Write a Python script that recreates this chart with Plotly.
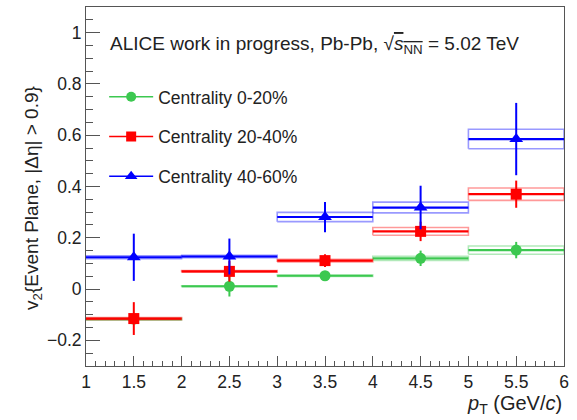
import plotly.graph_objects as go

# pT bins (GeV/c): centres and half-widths
pt = [1.5, 2.5, 3.5, 4.5, 5.5]
half_width = [0.5, 0.5, 0.5, 0.5, 0.5]

# v2{EP, |Δη| > 0.9} per centrality class: value, statistical and systematic uncertainty
v2_0_20 = [-0.117, 0.011, 0.052, 0.120, 0.152]
stat_0_20 = [0.010, 0.040, 0.015, 0.030, 0.032]
sys_0_20 = [0.003, 0.002, 0.003, 0.008, 0.016]

v2_20_40 = [-0.115, 0.069, 0.111, 0.225, 0.370]
stat_20_40 = [0.064, 0.040, 0.025, 0.038, 0.053]
sys_20_40 = [0.004, 0.003, 0.005, 0.015, 0.024]

v2_40_60 = [0.124, 0.127, 0.281, 0.318, 0.585]
stat_40_60 = [0.092, 0.070, 0.059, 0.085, 0.141]
sys_40_60 = [0.006, 0.005, 0.018, 0.021, 0.038]

series = [
    ("Centrality 0-20%", v2_0_20, stat_0_20, sys_0_20, "rgb(60,200,80)", "rgba(60,200,80,0.40)", "circle", 11),
    ("Centrality 20-40%", v2_20_40, stat_20_40, sys_20_40, "rgb(255,0,0)", "rgba(255,0,0,0.40)", "square", 11),
    ("Centrality 40-60%", v2_40_60, stat_40_60, sys_40_60, "rgb(0,0,255)", "rgba(0,0,255,0.40)", "triangle-up", 12),
]

FONT = "Liberation Sans, Arial, Helvetica, sans-serif"
TXT = "#222222"

fig = go.Figure()

for i, (name, vals, stat, sysu, col, boxcol, sym, size) in enumerate(series):
    # systematic-uncertainty boxes (open rectangles spanning the bin)
    bx, by = [], []
    for x, hw, v, s in zip(pt, half_width, vals, sysu):
        bx += [x - hw, x + hw, x + hw, x - hw, x - hw, None]
        by += [v - s, v - s, v + s, v + s, v - s, None]
    fig.add_trace(go.Scatter(
        x=bx, y=by, mode="lines", line=dict(color=boxcol, width=1.6),
        showlegend=False, hoverinfo="skip",
    ))
    # points with bin-width and statistical error bars
    fig.add_trace(go.Scatter(
        x=pt, y=vals, mode="markers", name=name, showlegend=False,
        marker=dict(symbol=sym, size=size, color=col),
        error_x=dict(type="data", array=half_width, color=col, thickness=2.2, width=0),
        error_y=dict(type="data", array=stat, color=col, thickness=2, width=0),
    ))
    # legend entry (marker with line)
    fig.add_trace(go.Scatter(
        x=[None], y=[None], mode="lines+markers", name=name,
        legendgroup=f"g{i}",
        line=dict(color=col, width=1.6),
        marker=dict(symbol=sym, size=size - 1, color=col),
    ))

fig.add_annotation(
    text="ALICE work in progress, Pb-Pb, √<span style='text-decoration:overline'><i>s</i><sub>NN</sub></span> = 5.02 TeV",
    xref="paper", yref="paper", x=0.046, y=0.894, xanchor="left", yanchor="middle",
    showarrow=False, font=dict(family=FONT, size=19, color=TXT),
)
fig.add_annotation(
    text="v<sub>2</sub>{Event Plane, |Δη| > 0.9}",
    xref="paper", yref="paper", x=-0.111, y=0.468, xanchor="center", yanchor="middle",
    textangle=-90, showarrow=False, font=dict(family=FONT, size=19, color=TXT),
)
fig.add_annotation(
    text="<i>p</i><sub>T</sub> (GeV/<i>c</i>)",
    xref="paper", yref="paper", x=1.0, y=-0.108, xanchor="right", yanchor="middle",
    showarrow=False, font=dict(family=FONT, size=20, color=TXT),
)

fig.update_xaxes(
    range=[1, 6], tickmode="linear", tick0=1, dtick=0.5,
    ticks="inside", ticklen=10, tickwidth=1, tickcolor="#555",
    minor=dict(ticks="inside", ticklen=5, dtick=0.1, tickcolor="#555", showgrid=False),
    showline=True, linecolor="#555", linewidth=1, mirror=True,
    showgrid=False, zeroline=False,
    tickfont=dict(family=FONT, size=17.5, color=TXT),
)
fig.update_yaxes(
    range=[-0.3, 1.1], tickmode="array",
    tickvals=[-0.2, 0, 0.2, 0.4, 0.6, 0.8, 1.0],
    ticktext=["−0.2", "0", "0.2", "0.4", "0.6", "0.8", "1"],
    ticks="inside", ticklen=14, tickwidth=1, tickcolor="#555",
    minor=dict(ticks="inside", ticklen=7, dtick=0.05, tick0=0, tickcolor="#555", showgrid=False),
    showline=True, linecolor="#555", linewidth=1, mirror=True,
    showgrid=False, zeroline=False,
    tickfont=dict(family=FONT, size=17.5, color=TXT),
)

fig.update_layout(
    width=577, height=420,
    margin=dict(l=86, r=13, t=7, b=54),
    paper_bgcolor="white", plot_bgcolor="white",
    legend=dict(
        x=0.038, y=0.80, xanchor="left", yanchor="top",
        bgcolor="rgba(0,0,0,0)", borderwidth=0,
        font=dict(family=FONT, size=17.5, color=TXT),
        tracegroupgap=14, traceorder="grouped", itemwidth=44,
    ),
)

fig.write_html("out.html")
